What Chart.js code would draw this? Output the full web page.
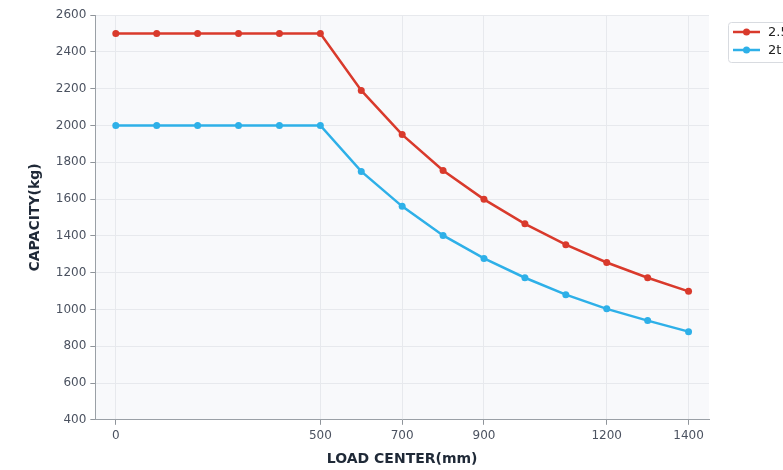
<!DOCTYPE html>
<html>
<head>
<meta charset="utf-8">
<script src="https://cdn.jsdelivr.net/npm/chart.js@4/dist/chart.umd.min.js"></script>
<style>
  html, body { margin: 0; padding: 0; background: #fff; overflow: hidden; }
  #wrap { width: 783px; height: 470px; }
</style>
</head>
<body>
<div id="wrap"><canvas id="c"></canvas></div>
<script>
const loadCenters = [0, 100, 200, 300, 400, 500, 600, 700, 800, 900, 1000, 1100, 1200, 1300, 1400];
const cap25t = [2500, 2500, 2500, 2500, 2500, 2500, 2190, 1950, 1755, 1598, 1465, 1352, 1255, 1172, 1098];
const cap2t = [2000, 2000, 2000, 2000, 2000, 2000, 1750, 1560, 1402, 1277, 1172, 1080, 1003, 939, 879];
const xTicks = [0, 500, 700, 900, 1200, 1400];
const seriesNames = ['2.5t', '2t'];
const seriesColors = ['#d93a2c', '#2eb0e8'];

const toPoints = vals => vals.map((v, i) => ({ x: loadCenters[i], y: v }));

const plotBg = {
    id: 'plotBg',
    beforeDraw(chart) {
        const { ctx, chartArea: a } = chart;
        ctx.save();
        ctx.fillStyle = '#f8f9fb';
        ctx.fillRect(a.left, a.top, a.right - a.left, a.bottom - a.top);
        ctx.restore();
    }
};

// plotly-ish legend box, sits outside the plot and gets cut by the canvas edge
const boxLegend = {
    id: 'boxLegend',
    afterDraw(chart) {
        const ctx = chart.ctx;
        const x = 728, y = 22, w = 80, h = 40;
        ctx.save();
        ctx.fillStyle = '#fff';
        ctx.strokeStyle = '#d8dbe0';
        ctx.lineWidth = 1;
        ctx.beginPath();
        ctx.roundRect(x + 0.5, y + 0.5, w, h, 3);
        ctx.fill();
        ctx.stroke();
        chart.data.datasets.forEach((ds, i) => {
            const ly = 32 + i * 18;
            ctx.strokeStyle = ds.borderColor;
            ctx.lineWidth = 2.5;
            ctx.beginPath();
            ctx.moveTo(733, ly);
            ctx.lineTo(760, ly);
            ctx.stroke();
            ctx.fillStyle = ds.borderColor;
            ctx.beginPath();
            ctx.arc(746.5, ly, 3.5, 0, Math.PI * 2);
            ctx.fill();
            ctx.fillStyle = '#222';
            ctx.font = '13px "DejaVu Sans"';
            ctx.textBaseline = 'middle';
            ctx.fillText(ds.label, 768, ly + 1);
        });
        ctx.restore();
    }
};

const plain = v => String(v);

new Chart(document.getElementById('c'), {
    type: 'line',
    data: {
        datasets: [cap25t, cap2t].map((vals, i) => ({
            label: seriesNames[i],
            data: toPoints(vals),
            borderColor: seriesColors[i],
            backgroundColor: seriesColors[i],
            borderWidth: 2.5,
            pointRadius: 3.5,
            pointBorderWidth: 0,
            pointHoverRadius: 4,
            tension: 0,
            fill: false,
        }))
    },
    options: {
        responsive: true,
        maintainAspectRatio: false,
        animation: false,
        layout: { padding: { top: 15, right: 74, left: 27, bottom: 2 } },
        plugins: {
            legend: { display: false },
            tooltip: { enabled: false },
        },
        scales: {
            x: {
                type: 'linear',
                min: -50,
                max: 1450,
                afterBuildTicks: axis => { axis.ticks = xTicks.map(v => ({ value: v })); },
                grid: { color: '#e7e9ed', tickColor: '#8f949a', tickLength: 5 },
                border: { color: '#9aa0a6' },
                ticks: { callback: plain, color: '#4b5260', font: { family: 'DejaVu Sans', size: 12 }, padding: 4, maxRotation: 0 },
                title: {
                    display: true,
                    text: 'LOAD CENTER(mm)',
                    color: '#1f2937',
                    font: { family: 'DejaVu Sans', size: 14, weight: 'bold' },
                    padding: { top: 4, bottom: 0 }
                }
            },
            y: {
                min: 400,
                max: 2600,
                ticks: { callback: plain, stepSize: 200, color: '#4b5260', font: { family: 'DejaVu Sans', size: 12 }, padding: 4 },
                grid: { color: '#e7e9ed', tickColor: '#8f949a', tickLength: 5 },
                border: { color: '#9aa0a6' },
                title: {
                    display: true,
                    text: 'CAPACITY(kg)',
                    color: '#1f2937',
                    font: { family: 'DejaVu Sans', size: 14, weight: 'bold' },
                    padding: { top: 0, bottom: 8 }
                }
            }
        }
    },
    plugins: [plotBg, boxLegend]
});
</script>
</body>
</html>
